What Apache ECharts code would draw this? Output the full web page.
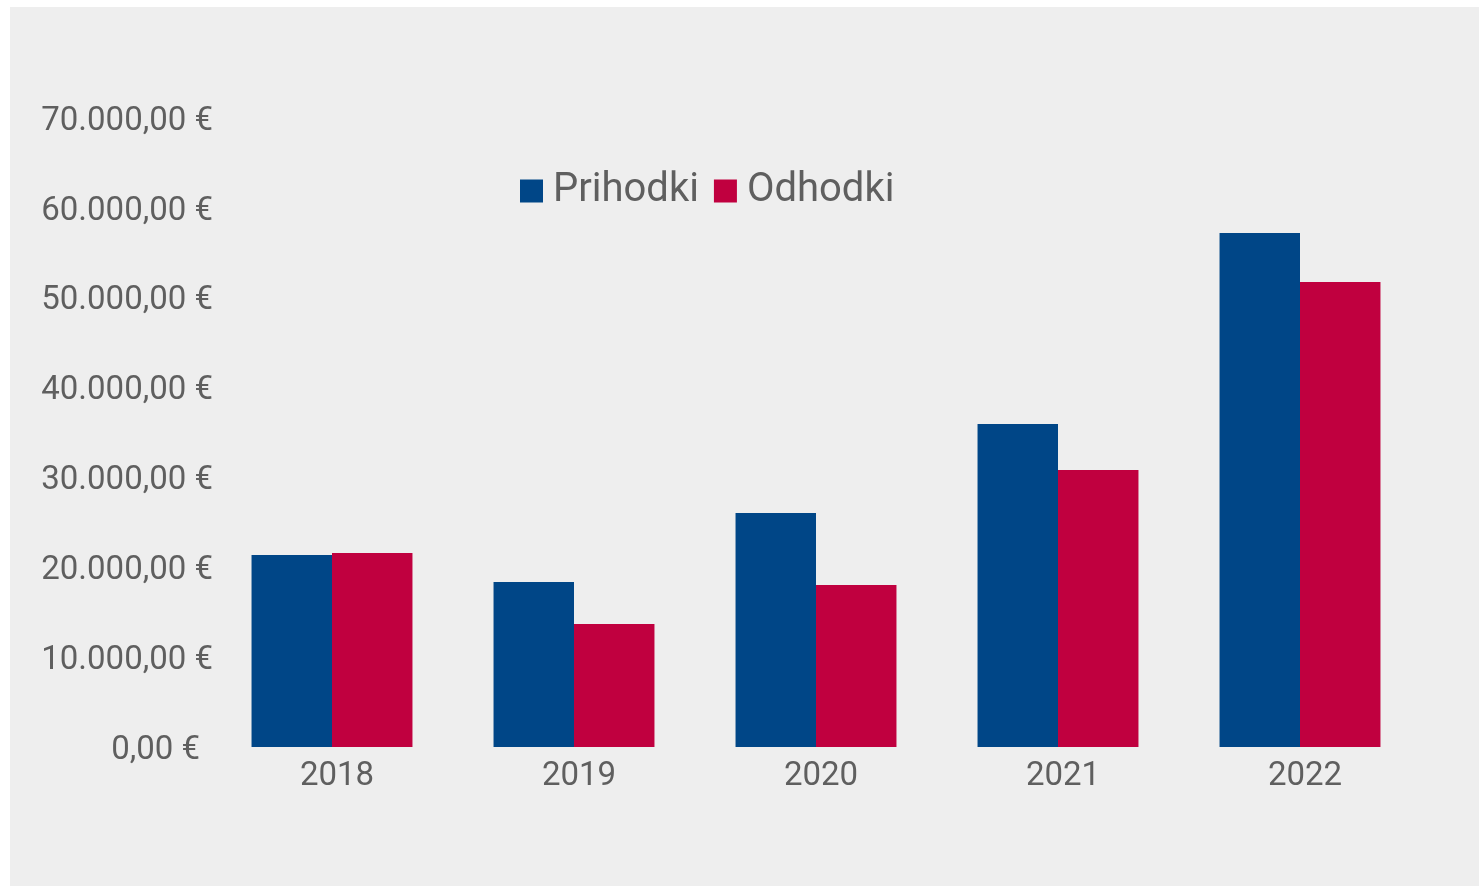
<!DOCTYPE html>
<html>
<head>
<meta charset="utf-8">
<script src="https://cdn.jsdelivr.net/npm/echarts@6/dist/echarts.min.js"></script>
<style>
html,body{margin:0;padding:0;background:#ffffff;width:1479px;height:886px;overflow:hidden;}
#bg{position:absolute;left:10px;top:7px;width:1469px;height:879px;background:#eeeeee;}
#chart{position:absolute;left:0;top:0;width:1479px;height:886px;}
</style>
</head>
<body>
<div id="bg"></div>
<div id="chart"></div>
<script>
const categories = ['2018', '2019', '2020', '2021', '2022'];
const prihodki = [21370, 18360, 26040, 35940, 57200];
const odhodki = [21590, 13690, 18030, 30830, 51750];
const seriesNames = ['Prihodki', 'Odhodki'];

function fmtEuro(v) {
  const parts = v.toFixed(2).split('.');
  const intPart = parts[0].replace(/\B(?=(\d{3})+(?!\d))/g, '.');
  return intPart + ',' + parts[1] + ' €';
}

const chart = echarts.init(document.getElementById('chart'), null, {renderer: 'canvas'});
chart.setOption({
  backgroundColor: 'transparent',
  animation: false,
  textStyle: {fontFamily: 'Roboto'},
  legend: {
    data: seriesNames,
    left: 520,
    top: 171,
    padding: 0,
    itemWidth: 23,
    itemHeight: 23,
    itemGap: 15,
    icon: 'rect',
    textStyle: {fontFamily: 'Roboto', fontSize: 40, color: '#5f5f5f', padding: [0, 0, 0, 5]}
  },
  grid: {left: 211, right: 58, top: 118, bottom: 139, containLabel: false},
  xAxis: {
    type: 'category',
    data: categories,
    axisLine: {show: false},
    axisTick: {show: false},
    axisLabel: {fontFamily: 'Roboto', fontSize: 33, color: '#5f5f5f', margin: 13, padding: [0, 0, 0, 10]}
  },
  yAxis: {
    type: 'value',
    min: 0,
    max: 70000,
    interval: 10000,
    splitLine: {show: false},
    axisLine: {show: false},
    axisTick: {show: false},
    axisLabel: {
      fontFamily: 'Roboto', fontSize: 33, color: '#5f5f5f', margin: -2, padding: [7, 0, 0, 0],
      formatter: function (v) { return v === 0 ? '{z|' + fmtEuro(v) + '}' : fmtEuro(v); },
      rich: {z: {fontFamily: 'Roboto', fontSize: 33, color: '#5f5f5f', padding: [0, 13, 0, 0]}}
    }
  },
  series: [
    {name: seriesNames[0], type: 'bar', data: prihodki, barGap: '0%', barCategoryGap: '33.5%', itemStyle: {color: '#004687'}},
    {name: seriesNames[1], type: 'bar', data: odhodki, barGap: '0%', barCategoryGap: '33.5%', itemStyle: {color: '#c0003f'}}
  ]
});
</script>
</body>
</html>
